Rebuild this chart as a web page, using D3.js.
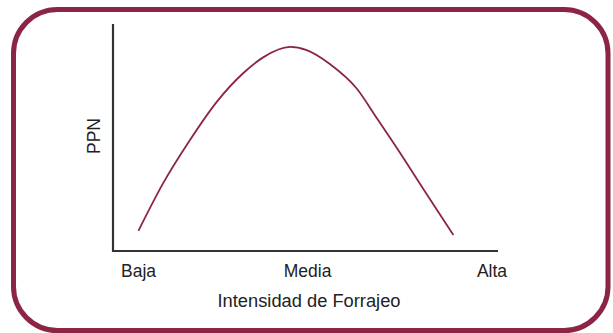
<!DOCTYPE html>
<html>
<head>
<meta charset="utf-8">
<script src="https://cdn.jsdelivr.net/npm/d3@7"></script>
<style>
html,body{margin:0;padding:0;background:#fff;}
svg{display:block;}
text{font-family:"Liberation Sans",Arial,Helvetica,sans-serif;fill:#222;}
</style>
</head>
<body>
<svg id="chart" width="613" height="333"></svg>
<script>
// Data (x: forage intensity, 0-100; y: relative PPN, 0-100)
const intensity = [6.6, 13, 20, 27, 33.8, 39, 46.0, 50.3, 56.4, 63.3, 68.5, 74.5, 80.6, 88.4];
const ppn       = [8.9, 29.8, 48.9, 65.8, 78.3, 85.3, 89.9, 88.5, 82.3, 71.6, 58.6, 43.4, 27.3, 7.1];
const tickLabels = ["Baja", "Media", "Alta"];
const tickValues = [6.5, 50.4, 98.3];
const xTitle = "Intensidad de Forrajeo";
const yTitle = "PPN";

const svg = d3.select("#chart");
const maroon = "#8c2545";

// frame
svg.append("rect")
  .attr("x", 13.5).attr("y", 9.5)
  .attr("width", 594.5).attr("height", 321)
  .attr("rx", 44).attr("ry", 44)
  .attr("fill", "#fff")
  .attr("stroke", maroon).attr("stroke-width", 5);

const x = d3.scaleLinear().domain([0, 100]).range([113, 498]);
const y = d3.scaleLinear().domain([0, 100]).range([251, 24]);

const g = svg.append("g");

// x axis
const xAxis = d3.axisBottom(x).tickValues(tickValues)
  .tickFormat((d, i) => tickLabels[i]).tickSize(0).tickPadding(14);
const xg = g.append("g").attr("transform", `translate(0,${y(0)})`).call(xAxis);
xg.select(".domain").attr("stroke", "#333").attr("stroke-width", 2.2)
  .attr("d", `M${x(0) - 1},0H${x(100)}`);
xg.selectAll(".tick text")
  .style("font-size", "17.5px")
  .style("font-family", "'Liberation Sans', Arial, sans-serif")
  .attr("fill", "#222");

// y axis
const yAxis = d3.axisLeft(y).tickValues([]).tickSize(0);
const yg = g.append("g").attr("transform", `translate(${x(0)},0)`).call(yAxis);
yg.select(".domain").attr("stroke", "#333").attr("stroke-width", 2.2)
  .attr("d", `M0,${y(100)}V${y(0) + 1}`);

// titles
svg.append("text")
  .attr("x", 309).attr("y", 307)
  .attr("text-anchor", "middle")
  .style("font-size", "18.3px")
  .text(xTitle);

svg.append("text")
  .attr("transform", `translate(99.5,136) rotate(-90)`)
  .attr("text-anchor", "middle")
  .style("font-size", "17.5px")
  .text(yTitle);

// curve
const pts = intensity.map((v, i) => [v, ppn[i]]);
const line = d3.line()
  .x(d => x(d[0])).y(d => y(d[1]))
  .curve(d3.curveMonotoneX);
g.append("path")
  .datum(pts)
  .attr("d", line)
  .attr("fill", "none")
  .attr("stroke", maroon)
  .attr("stroke-width", 1.8);
</script>
</body>
</html>
